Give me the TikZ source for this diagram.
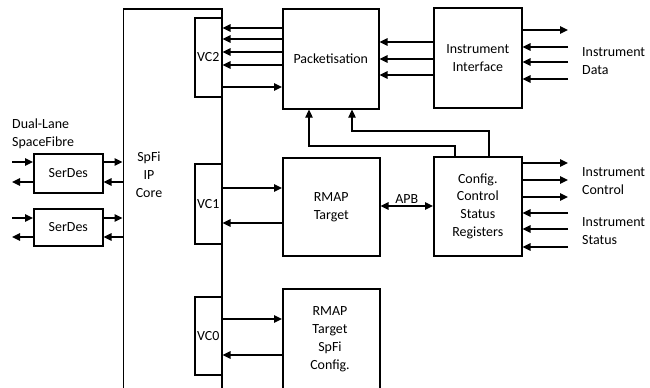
\documentclass[tikz,border=0pt]{standalone}
\usepackage{fontspec}
\setmainfont{Carlito}
\usetikzlibrary{arrows.meta,calc,positioning}

\begin{document}
\begin{tikzpicture}[x=1bp,y=-1bp,
    font=\fontsize{14}{18}\selectfont,
    box/.style={draw,line width=1.6bp,inner sep=0pt,align=center,anchor=north west},
    lbl/.style={inner sep=0pt,align=left,anchor=west},
    arr/.style={line width=1.4bp,-{Triangle[length=8bp,width=7.5bp]}},
    darr/.style={line width=1.4bp,{Triangle[length=8bp,width=7.5bp]}-{Triangle[length=8bp,width=7.5bp]}},
    ctl/.style={line width=1.1bp,-{Triangle[length=8bp,width=7.5bp]}}]
    \useasboundingbox (0,0) rectangle (650,387);
    % core and virtual channels
    \node[box,minimum width=98.5bp,minimum height=380bp] (core) at (122.5,8) {};
    \node[align=center,inner sep=0pt] (corelbl) at (149,175) {SpFi\\IP\\Core};
    \node[box,fill=white,minimum width=27bp,minimum height=79bp] (vc2) at (194,17) {VC2};
    \node[box,fill=white,minimum width=27bp,minimum height=80bp] (vc1) at (194,163) {VC1};
    \node[box,fill=white,minimum width=27bp,minimum height=78bp] (vc0) at (194,296) {VC0};
    % serdes
    \node[box,minimum width=69bp,minimum height=39bp] (serdesA) at (33,153) {SerDes};
    \node[box,minimum width=69bp,minimum height=37bp] (serdesB) at (33,208) {SerDes};
    \node[lbl] (duallbl) at (12,134) {Dual-Lane\\SpaceFibre};
    % function blocks
    \node[box,minimum width=96bp,minimum height=100bp] (pack) at (282,8) {Packetisation};
    \node[box,minimum width=88bp,minimum height=100bp] (iface) at (433,7) {Instrument\\Interface};
    \node[box,minimum width=97bp,minimum height=98bp] (rmap) at (282,157) {RMAP\\Target};
    \node[box,minimum width=88bp,minimum height=99bp] (csr) at (433,156) {Config.\\Control\\Status\\Registers};
    \node[box,minimum width=97bp,minimum height=110bp,text depth=0pt] (rspfi) at (282,288) {};
    \node[align=center,inner sep=0pt] (rspfilbl) at (330,339) {RMAP\\Target\\SpFi\\Config.};
    % outside ends
    \coordinate (extL) at (12,0);
    \coordinate (extR) at (568,0);
    \node[lbl] (datalbl) at (582,61) {Instrument\\Data};
    \node[lbl] (ctrllbl) at (582,181) {Instrument\\Control};
    \node[lbl] (statlbl) at (582,231) {Instrument\\Status};
    % serdes links
    \draw[arr] (extL |- 0,162) -- (serdesA.west |- 0,162);
    \draw[arr] (serdesA.west |- 0,182) -- (extL |- 0,182);
    \draw[arr] (serdesA.east |- 0,162) -- (core.west |- 0,162);
    \draw[arr] (core.west |- 0,182) -- (serdesA.east |- 0,182);
    \draw[arr] (extL |- 0,218) -- (serdesB.west |- 0,218);
    \draw[arr] (serdesB.west |- 0,237) -- (extL |- 0,237);
    \draw[arr] (serdesB.east |- 0,218) -- (core.west |- 0,218);
    \draw[arr] (core.west |- 0,237) -- (serdesB.east |- 0,237);
    % VC2 <-> packetisation
    \foreach \y in {28,39,52,65}
        \draw[arr] (pack.west |- 0,\y) -- (vc2.east |- 0,\y);
    \draw[arr] (vc2.east |- 0,87) -- (pack.west |- 0,87);
    \foreach \y in {42,59,75}
        \draw[arr] (iface.west |- 0,\y) -- (pack.east |- 0,\y);
    \draw[arr] (iface.east |- 0,30) -- (extR |- 0,30);
    \foreach \y in {47,62,79}
        \draw[arr] (extR |- 0,\y) -- (iface.east |- 0,\y);
    % VC1 <-> RMAP
    \draw[arr] (vc1.east |- 0,188) -- (rmap.west |- 0,188);
    \draw[arr] (rmap.west |- 0,223) -- (vc1.east |- 0,223);
    \draw[darr] (rmap.east |- 0,206) -- node[above=2bp,inner sep=0pt] {APB} (csr.west |- 0,206);
    \foreach \y in {163,180,197}
        \draw[arr] (csr.east |- 0,\y) -- (extR |- 0,\y);
    \foreach \y in {213,229,247}
        \draw[arr] (extR |- 0,\y) -- (csr.east |- 0,\y);
    % control to packetisation
    \draw[ctl] (csr.north -| 455,0) |- (309,146) -- (pack.south -| 309,0);
    \draw[ctl] (csr.north -| 489,0) |- (352,131) -- (pack.south -| 352,0);
    % VC0 <-> RMAP SpFi
    \draw[arr] (vc0.east |- 0,319) -- (rspfi.west |- 0,319);
    \draw[arr] (rspfi.west |- 0,355) -- (vc0.east |- 0,355);
\end{tikzpicture}
\end{document}
